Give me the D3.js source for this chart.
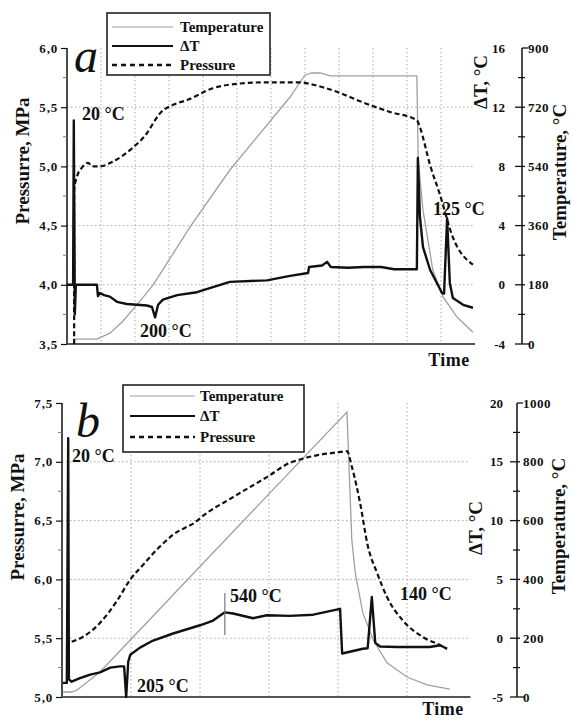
<!DOCTYPE html>
<html><head><meta charset="utf-8">
<script src="https://cdn.jsdelivr.net/npm/d3@7"></script>
<style>
body{margin:0;background:#fff;}
svg{display:block;}
text{font-family:"Liberation Serif","Times New Roman",serif;font-weight:bold;fill:#111;}
</style></head>
<body>
<svg id="chart" width="571" height="720"></svg>
<script>
// ---------- DATA ----------
// Panel a (x in time units 0..12)
const tempA_x = [0.18,0.88,1.26,1.62,2.0,2.53,3.62,4.79,6.56,7.0,7.2,7.44,7.74,10.29,10.33,10.47,10.76,11.06,11.47,11.94];
const tempA_y = [15,15,33,67,112,179,356,529,751,818,824,824,815,815,560,407,225,143,82,36];
const presA_x = [0.21,0.21,0.29,0.44,0.62,0.74,0.97,1.35,1.94,2.35,2.59,2.74,3.12,3.53,4.29,5.09,5.85,6.85,7.24,7.94,8.71,9.5,10.29,10.38,10.68,10.97,11.35,11.94];
const presA_y = [3.5,4.80,4.91,4.99,5.03,5.0,5.0,5.04,5.16,5.28,5.39,5.45,5.52,5.56,5.66,5.70,5.71,5.71,5.69,5.63,5.54,5.46,5.39,5.33,5.01,4.76,4.40,4.17];
const dtA_x = [0,0.18,0.2,0.23,0.26,0.88,0.91,0.97,1.09,1.26,1.47,1.76,2.06,2.35,2.5,2.59,2.68,2.82,3.24,3.82,4.79,5.88,6.56,7.09,7.12,7.5,7.65,7.76,8.26,8.74,9.24,9.62,10.29,10.32,10.38,10.47,10.68,10.88,11.03,11.09,11.18,11.26,11.35,11.65,11.94];
const dtA_y = [0,0,11.1,-2.0,0,0,-0.76,-0.55,-0.7,-0.8,-1.15,-1.3,-1.35,-1.4,-1.5,-2.2,-1.35,-1.0,-0.7,-0.5,0.2,0.3,0.6,0.8,1.2,1.3,1.55,1.2,1.15,1.2,1.2,1.05,1.05,8.57,4.6,2.55,1.0,0.12,-0.55,-0.6,4.5,0.1,-0.9,-1.35,-1.55];

// Panel b (x in time units 0..5.92)
const tempB_x = [0.01,0.14,0.22,0.55,0.99,2.0,3.30,4.13,4.20,4.25,4.36,4.51,4.71,5.0,5.29,5.62];
const tempB_y = [17,17,24,85,194,444,765,969,534,422,286,194,116,68,41,27];
const presB_x = [0.14,0.30,0.55,0.80,0.99,1.17,1.32,1.42,1.61,1.96,2.0,2.48,2.97,3.30,3.45,3.74,3.99,4.13,4.20,4.32,4.43,4.57,4.71,4.94,5.23,5.48,5.58];
const presB_y = [5.47,5.51,5.63,5.82,6.0,6.12,6.22,6.28,6.38,6.5,6.52,6.70,6.87,6.99,7.02,7.06,7.08,7.09,6.96,6.65,6.29,6.05,5.85,5.65,5.51,5.44,5.41];
const dtB_x = [0.01,0.07,0.09,0.1,0.14,0.26,0.41,0.55,0.70,0.84,0.9,0.93,0.96,0.99,1.13,1.32,1.61,2.0,2.19,2.36,2.48,2.77,2.97,3.30,3.64,3.88,4.03,4.06,4.36,4.43,4.49,4.54,4.61,4.86,5.33,5.48,5.58];
const dtB_y = [-3.8,-3.8,17.0,-3.5,-3.7,-3.4,-3.1,-2.9,-2.5,-2.4,-2.4,-5.0,-2.0,-1.4,-0.8,-0.2,0.4,1.1,1.5,2.2,2.1,1.7,1.95,1.9,2.0,2.3,2.5,-1.3,-0.9,-0.85,3.5,-0.4,-0.7,-0.75,-0.75,-0.6,-0.9];

// tick values / labels
const presTicksA = [3.5,4.0,4.5,5.0,5.5,6.0];
const dtTicksA = [-4,0,4,8,12,16];
const tempTicksA = [0,180,360,540,720,900];
const presTicksB = [5.0,5.5,6.0,6.5,7.0,7.5];
const dtTicksB = [-5,0,5,10,15,20];
const tempTicksB = [0,200,400,600,800,1000];
const legendLabels = ["Temperature","ΔT","Pressure"];

// ---------- DRAW ----------
const svg = d3.select("#chart");
const fmtP = v => d3.format(".1f")(v).replace(".", ",");
const zip = (xs, ys) => xs.map((x,i)=>[x, ys[i]]);

function panel(cfg){
  const g = svg.append("g");
  const x = d3.scaleLinear().domain([0, cfg.xmax]).range([cfg.x0, cfg.x0 + cfg.unit*cfg.xmax]);
  const yP = d3.scaleLinear().domain(cfg.pDom).range([cfg.yb, cfg.yt]);
  const yD = d3.scaleLinear().domain(cfg.dDom).range([cfg.yb, cfg.yt]);
  const yT = d3.scaleLinear().domain(cfg.tDom).range([cfg.yb, cfg.yt]);
  const gridStyle = s => s.attr("stroke","#a8a8a8").attr("stroke-width",1).attr("stroke-dasharray","1.5,2.5");
  // horizontal grid
  g.selectAll(".hg").data(cfg.pTicks.slice(1,-1)).join("line")
    .attr("x1", cfg.x0).attr("x2", cfg.gridRight)
    .attr("y1", d=>yP(d)).attr("y2", d=>yP(d)).call(gridStyle);
  // vertical grid
  g.selectAll(".vg").data(cfg.vGrid).join("line")
    .attr("x1", d=>x(d)).attr("x2", d=>x(d))
    .attr("y1", cfg.yt).attr("y2", cfg.yb).call(gridStyle);

  // left axis
  const left = g.append("g").attr("transform",`translate(${cfg.x0},0)`)
    .call(d3.axisLeft(yP).tickValues(cfg.pTicks).tickFormat(fmtP).tickSize(6).tickPadding(3));
  left.select(".domain").attr("stroke","#111").attr("stroke-width",1.5).attr("d",`M0,${cfg.yb}V${cfg.yt}`);
  left.selectAll(".tick line").attr("stroke","#111").attr("stroke-width",1.2);
  left.selectAll("text").style("font-size","13px").style("letter-spacing","0.8px").attr("fill","#111").style("font-family",'"Liberation Serif",serif').style("font-weight","bold");
  const minorP = d3.pairs(cfg.pTicks).map(p=>(p[0]+p[1])/2);
  g.selectAll(".mp").data(minorP).join("line")
    .attr("x1", cfg.x0-4).attr("x2", cfg.x0).attr("y1", d=>yP(d)).attr("y2", d=>yP(d))
    .attr("stroke","#777").attr("stroke-width",1);

  // bottom axis
  g.append("line").attr("x1", cfg.x0).attr("x2", x(cfg.xmax)).attr("y1", cfg.yb).attr("y2", cfg.yb)
    .attr("stroke","#555").attr("stroke-width",2);

  // right axes (ΔT labels + temperature axis)
  const ax = cfg.axisX;
  g.append("line").attr("x1",ax).attr("x2",ax).attr("y1",cfg.yt).attr("y2",cfg.yb).attr("stroke","#111").attr("stroke-width",1.5);
  cfg.tTicks.forEach((t,i)=>{
    const yy = yT(t);
    let x1 = ax-7, x2 = ax+3;
    if(i===cfg.tTicks.length-1){ x1 = ax; x2 = ax+6; }
    if(i===0){ x1 = ax-7; x2 = ax+7; }
    g.append("line").attr("x1",x1).attr("x2",x2).attr("y1",yy).attr("y2",yy).attr("stroke","#111").attr("stroke-width",1.3);
    g.append("text").attr("x",ax+6).attr("y",yy).attr("dy","0.35em").style("font-size","13px").style("letter-spacing","0.5px").text(t);
  });
  d3.pairs(cfg.tTicks).map(p=>(p[0]+p[1])/2).forEach(t=>{
    g.append("line").attr("x1",ax-4).attr("x2",ax+3).attr("y1",yT(t)).attr("y2",yT(t)).attr("stroke","#111").attr("stroke-width",1.2);
  });
  cfg.dTicks.forEach(v=>{
    g.append("text").attr("x",cfg.dLabelX).attr("y",yD(v)).attr("dy","0.35em").attr("text-anchor","end").style("font-size","13px").text(v);
  });

  // titles
  const rot = (cx, cy, txt) => g.append("text").attr("transform",`translate(${cx},${cy}) rotate(-90)`)
    .attr("text-anchor","middle").attr("dy","0.35em").style("font-size","19px").text(txt);
  rot(cfg.pTitle[0], cfg.pTitle[1], "Pressurre, MPa");
  rot(cfg.dTitle[0], cfg.dTitle[1], "ΔT, °C");
  rot(cfg.tTitle[0], cfg.tTitle[1], "Temperature, °C");
  g.append("text").attr("x",cfg.timeXY[0]).attr("y",cfg.timeXY[1]).attr("text-anchor","middle").style("font-size","18px").style("letter-spacing","0.5px").text("Time");

  // series
  const lineT = d3.line().x(d=>x(d[0])).y(d=>yT(d[1]));
  const lineP = d3.line().x(d=>x(d[0])).y(d=>yP(d[1])).curve(d3.curveMonotoneX);
  const lineD = d3.line().x(d=>x(d[0])).y(d=>yD(d[1]));
  g.append("path").attr("d", lineT(zip(cfg.tX,cfg.tY))).attr("fill","none").attr("stroke","#a0a0a0").attr("stroke-width",1.3);
  g.append("path").attr("d", lineP(zip(cfg.pX,cfg.pY))).attr("fill","none").attr("stroke","#111").attr("stroke-width",2.2).attr("stroke-dasharray","5,3");
  g.append("path").attr("d", lineD(zip(cfg.dX,cfg.dY))).attr("fill","none").attr("stroke","#111").attr("stroke-width",2.4).attr("stroke-linejoin","round");

  // marker line
  if(cfg.marker){
    g.append("line").attr("x1",x(cfg.marker[0])).attr("x2",x(cfg.marker[0]))
      .attr("y1",yD(cfg.marker[1])).attr("y2",yD(cfg.marker[2])).attr("stroke","#777").attr("stroke-width",1.2);
  }
  // annotations
  cfg.notes.forEach(n=>{
    g.append("text").attr("x",n[0]).attr("y",n[1]).style("font-size","18px").text(n[2]);
  });
  // panel letter
  g.append("text").attr("x",cfg.letter[0]).attr("y",cfg.letter[1]).style("font-size","48px")
    .style("font-style","italic").style("font-weight","normal").text(cfg.letter[2]);

  // legend
  const L = cfg.legend;
  g.append("rect").attr("x",L.x).attr("y",L.y).attr("width",L.w).attr("height",L.h)
    .attr("fill","#fff").attr("stroke","#222").attr("stroke-width",1.6);
  const styles = [
    {stroke:"#a0a0a0", w:1.2, dash:null},
    {stroke:"#111", w:2, dash:null},
    {stroke:"#111", w:2.4, dash:"5,4"}
  ];
  legendLabels.forEach((lab,i)=>{
    const ly = L.rows[i];
    const s = styles[i];
    const ln = g.append("line").attr("x1",L.lx1).attr("x2",L.lx2).attr("y1",ly).attr("y2",ly)
      .attr("stroke",s.stroke).attr("stroke-width",s.w);
    if(s.dash) ln.attr("stroke-dasharray",s.dash);
    g.append("text").attr("x",L.tx).attr("y",ly).attr("dy","0.35em").style("font-size","15px").text(lab);
  });
}

panel({
  x0:67, unit:34, xmax:12, yt:48, yb:344, gridRight:473,
  pDom:[3.5,6.0], dDom:[-4,16], tDom:[0,900],
  pTicks:presTicksA, dTicks:dtTicksA, tTicks:tempTicksA,
  vGrid:d3.range(1,12),
  axisX:522, dLabelX:505,
  pTitle:[22,161], dTitle:[480,82], tTitle:[559,172], timeXY:[449,366],
  tX:tempA_x, tY:tempA_y, pX:presA_x, pY:presA_y, dX:dtA_x, dY:dtA_y,
  notes:[[82,120,"20 °C"],[140,337,"200 °C"],[433,215,"125 °C"]],
  letter:[74,72,"a"],
  legend:{x:107,y:13,w:163,h:62,rows:[27,46,65],lx1:112,lx2:173,tx:180}
});

panel({
  x0:62, unit:69, xmax:5.92, yt:403, yb:697, gridRight:470,
  pDom:[5.0,7.5], dDom:[-5,20], tDom:[0,1000],
  pTicks:presTicksB, dTicks:dtTicksB, tTicks:tempTicksB,
  vGrid:[1,2,3,4,5],
  axisX:517, dLabelX:503,
  pTitle:[17,517], dTitle:[475,528], tTitle:[558,526], timeXY:[443,715],
  tX:tempB_x, tY:tempB_y, pX:presB_x, pY:presB_y, dX:dtB_x, dY:dtB_y,
  marker:[2.36,3.84,0.27],
  notes:[[72,462,"20 °C"],[137,692,"205 °C"],[230,602,"540 °C"],[400,600,"140 °C"]],
  letter:[76,437,"b"],
  legend:{x:123,y:385,w:181,h:67,rows:[396,416,437],lx1:130,lx2:195,tx:200}
});
</script>
</body></html>
